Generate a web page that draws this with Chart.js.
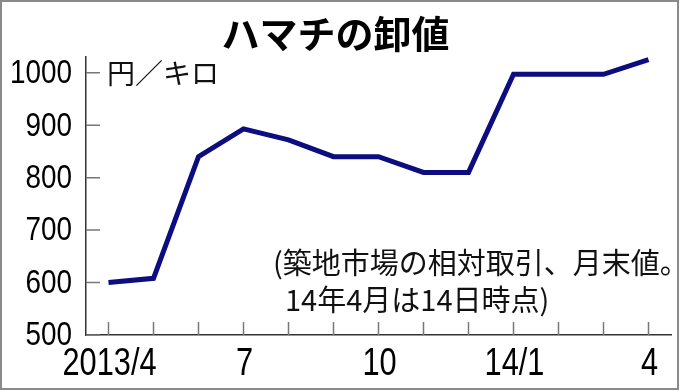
<!DOCTYPE html>
<html>
<head>
<meta charset="utf-8">
<script src="https://cdn.jsdelivr.net/npm/chart.js@4"></script>
<style>
  html, body { margin: 0; padding: 0; background: #fff; }
  #wrap { width: 680px; height: 391px; }
</style>
</head>
<body>
<div id="wrap"><canvas id="myChart"></canvas></div>
<script>
const ctx = document.getElementById('myChart');

// monthly wholesale price, 2013/4 .. 2014/4 (yen per kg)
var months = ['2013/4', '2013/5', '2013/6', '2013/7', '2013/8', '2013/9', '2013/10',
              '2013/11', '2013/12', '2014/1', '2014/2', '2014/3', '2014/4'];
var prices = [600, 608, 840, 893, 872, 840, 840, 810, 810, 997, 997, 997, 1025];
var xTickLabels = ['2013/4', '', '', '7', '', '', '10', '', '', '14/1', '', '', '4'];
var yTicks = [500, 600, 700, 800, 900, 1000];

var numFont = '"Liberation Sans", Arial, sans-serif';
var jpFont = '"Noto Sans CJK JP", sans-serif';

// narrow numbers: squeeze the sans face sideways
function narrowText(c, text, x, y, align, sx) {
    c.save();
    c.translate(x, y);
    c.scale(sx, 1);
    c.textAlign = align;
    c.fillText(text, 0, 0);
    c.restore();
}

// white background, outer frame, inner tick marks, tick labels and notes
const decor = {
    id: 'decor',
    beforeDraw(chart) {
        const c = chart.ctx;
        c.save();
        c.fillStyle = '#fff';
        c.fillRect(0, 0, chart.width, chart.height);
        c.strokeStyle = '#8a8a8a';
        c.lineWidth = 2;
        c.strokeRect(1, 1, 677, 388);
        c.restore();
    },
    afterDraw(chart) {
        const c = chart.ctx;
        const area = chart.chartArea;
        const xs = chart.scales.x;
        const ys = chart.scales.y;
        c.save();
        c.strokeStyle = '#777';
        c.lineWidth = 1.5;
        c.beginPath();
        months.forEach(function (m, i) {
            const px = xs.getPixelForValue(i);
            c.moveTo(px, area.bottom);
            c.lineTo(px, area.bottom - 13);
        });
        yTicks.forEach(function (v) {
            const py = ys.getPixelForValue(v);
            c.moveTo(area.left, py);
            c.lineTo(area.left + 14, py);
        });
        c.stroke();

        c.fillStyle = '#000';
        c.textBaseline = 'middle';
        c.font = '34px ' + numFont;
        yTicks.forEach(function (v) {
            narrowText(c, String(v), area.left - 14, ys.getPixelForValue(v) + 1, 'right', 0.82);
        });
        c.font = '38px ' + numFont;
        xTickLabels.forEach(function (t, i) {
            if (t) narrowText(c, t, xs.getPixelForValue(i) + 1, 365, 'center', 0.81);
        });

        c.fillStyle = '#111';
        c.textAlign = 'left';
        c.font = '28px ' + jpFont;
        c.fillText('円／キロ', 107, 73);
        c.font = '29px ' + jpFont;
        c.fillText('(築地市場の相対取引、月末値。', 273, 263);
        c.fillText('14年4月は14日時点)', 285, 300);
        c.restore();
    }
};

new Chart(ctx, {
    type: 'line',
    data: {
        labels: months,
        datasets: [{
            data: prices,
            borderColor: '#0d0d80',
            borderWidth: 5,
            pointRadius: 0,
            tension: 0,
            borderJoinStyle: 'miter'
        }]
    },
    options: {
        responsive: true,
        maintainAspectRatio: false,
        animation: false,
        layout: {
            padding: { left: 0, right: 9, top: 0, bottom: 0 }
        },
        plugins: {
            legend: { display: false },
            tooltip: { enabled: false },
            title: {
                display: true,
                text: 'ハマチの卸値',
                color: '#000',
                font: { family: jpFont, size: 38, weight: 'bold', lineHeight: 1 },
                padding: { top: 15, bottom: 4 }
            }
        },
        scales: {
            x: {
                offset: true,
                grid: { display: false },
                border: { display: true, color: '#333', width: 1.5 },
                ticks: { display: false },
                afterFit: function (scale) { scale.height = 56; }
            },
            y: {
                min: 500,
                max: 1030,
                grid: { display: false },
                border: { display: true, color: '#333', width: 1.5 },
                ticks: { display: false, stepSize: 100, includeBounds: false },
                afterFit: function (scale) { scale.width = 86; }
            }
        }
    },
    plugins: [decor]
});
</script>
</body>
</html>
